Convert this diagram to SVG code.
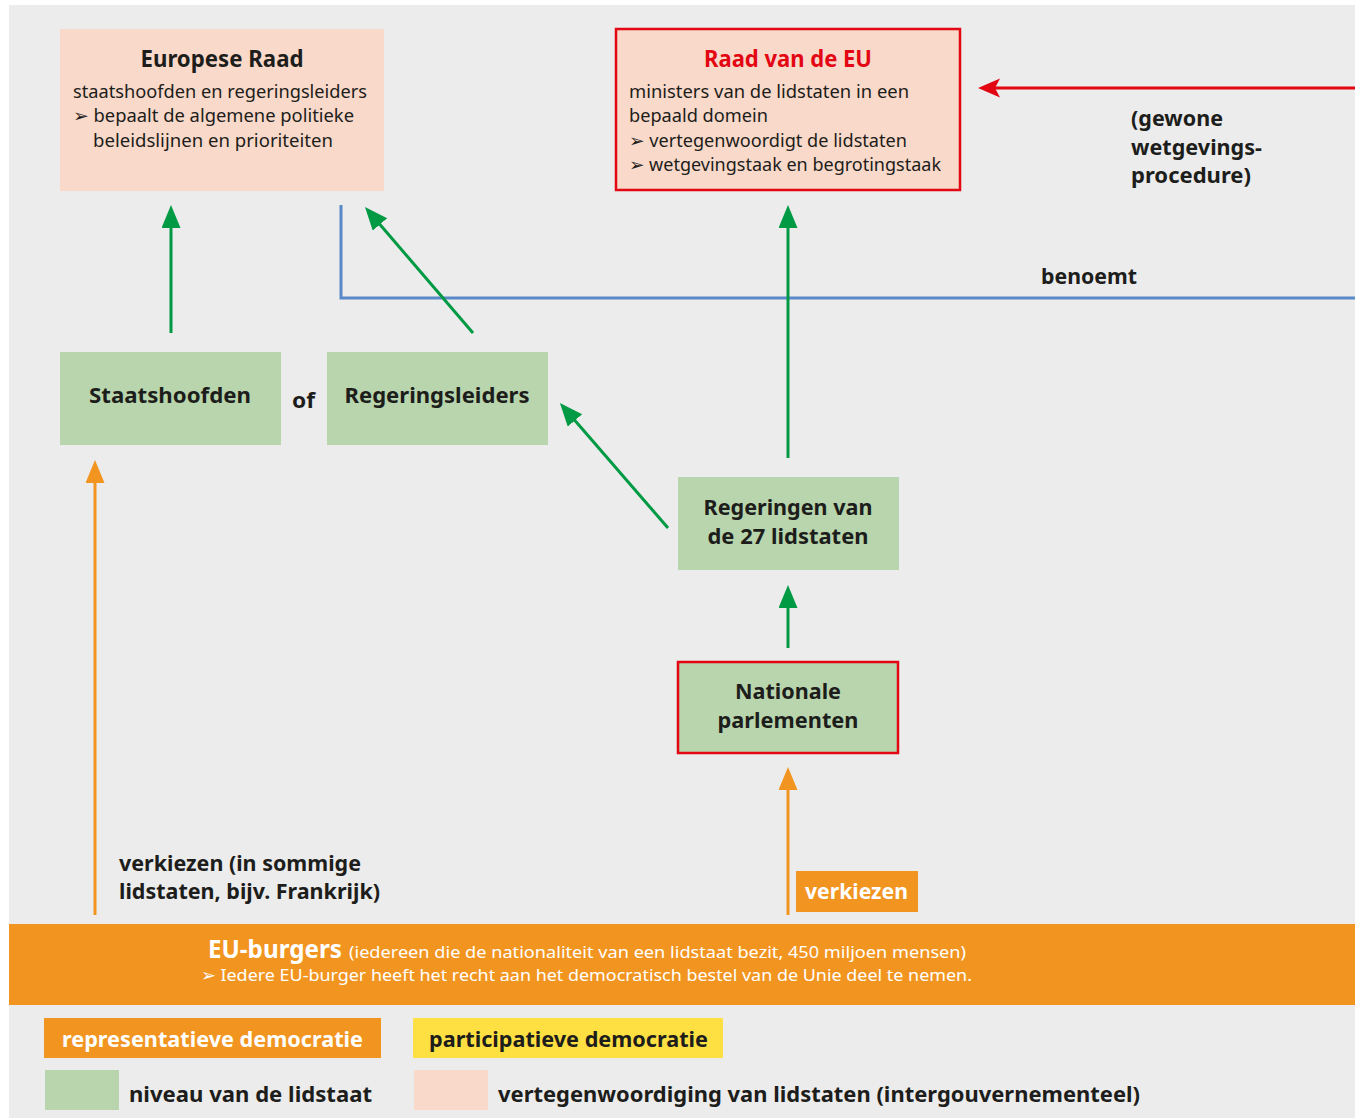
<svg xmlns="http://www.w3.org/2000/svg" width="1355" height="1118" viewBox="0 0 1355 1118">
<style>
  text { font-family: "Noto Sans", "Open Sans", sans-serif; fill: #1d1d1b; }
  .t { font-size: 23px; font-weight: bold; }
  .b { font-size: 17.5px; }
  .lbl { font-size: 22px; font-weight: bold; }
  .w { fill: #ffffff; }
  .pink { fill: #f9d9c9; }
  .green { fill: #b8d5ad; }
  .redb { stroke: #e30613; stroke-width: 2.5; }
  .ga { stroke: #009a44; stroke-width: 3; fill: none; marker-end: url(#ag); }
  .oa { stroke: #f29520; stroke-width: 3; fill: none; marker-end: url(#ao); }
</style>
<defs>
  <marker id="ag" markerUnits="userSpaceOnUse" markerWidth="24" markerHeight="20" refX="1" refY="9.5" orient="auto">
    <path d="M0,0 L23,9.5 L0,19 z" fill="#009a44"/>
  </marker>
  <marker id="ao" markerUnits="userSpaceOnUse" markerWidth="24" markerHeight="20" refX="1" refY="9.5" orient="auto">
    <path d="M0,0 L23,9.5 L0,19 z" fill="#f29520"/>
  </marker>
  <marker id="ar" markerUnits="userSpaceOnUse" markerWidth="24" markerHeight="20" refX="5" refY="9.5" orient="auto">
    <path d="M0,0 L22,9.5 L0,19 L5,9.5 z" fill="#e30613"/>
  </marker>
</defs>
<rect x="0" y="0" width="1355" height="1118" fill="#ffffff"/>
<rect x="9" y="5" width="1346" height="1113" fill="#ececec"/>

<g id="connectors">
  <polyline points="341,205 341,298 1355,298" fill="none" stroke="#5b89c8" stroke-width="3"/>
  <line x1="1355" y1="88" x2="995" y2="88" stroke="#e30613" stroke-width="3" marker-end="url(#ar)"/>
  <line class="ga" x1="171" y1="333" x2="171" y2="227"/>
  <line class="ga" x1="473" y1="333" x2="379.3" y2="223.7"/>
  <line class="ga" x1="788" y1="458" x2="788" y2="227"/>
  <line class="ga" x1="668" y1="528" x2="574.3" y2="419.7"/>
  <line class="ga" x1="788" y1="648" x2="788" y2="607"/>
  <line class="oa" x1="95" y1="915" x2="95" y2="482"/>
  <line class="oa" x1="788" y1="915" x2="788" y2="789"/>
  <text class="lbl" x="1131" y="126" textLength="92" lengthAdjust="spacingAndGlyphs">(gewone</text>
  <text class="lbl" x="1131" y="155" textLength="131" lengthAdjust="spacingAndGlyphs">wetgevings-</text>
  <text class="lbl" x="1131" y="183" textLength="120" lengthAdjust="spacingAndGlyphs">procedure)</text>
  <text class="lbl" x="1041" y="284" textLength="96" lengthAdjust="spacingAndGlyphs">benoemt</text>
  <text class="lbl" x="119" y="871" textLength="242" lengthAdjust="spacingAndGlyphs">verkiezen (in sommige</text>
  <text class="lbl" x="119" y="899" textLength="261" lengthAdjust="spacingAndGlyphs">lidstaten, bijv. Frankrijk)</text>
  <rect x="796" y="871" width="122" height="41" fill="#f29520"/>
  <text class="lbl w" x="805" y="899" textLength="103" lengthAdjust="spacingAndGlyphs">verkiezen</text>
</g>

<g id="europese-raad">
  <rect class="pink" x="60" y="29" width="324" height="162"/>
  <text class="t" x="222" y="67" text-anchor="middle" textLength="163" lengthAdjust="spacingAndGlyphs">Europese Raad</text>
  <text class="b" x="73" y="98" textLength="294" lengthAdjust="spacingAndGlyphs">staatshoofden en regeringsleiders</text>
  <text class="b" x="73" y="122" textLength="281" lengthAdjust="spacingAndGlyphs">➢ bepaalt de algemene politieke</text>
  <text class="b" x="93" y="147" textLength="240" lengthAdjust="spacingAndGlyphs">beleidslijnen en prioriteiten</text>
</g>

<g id="raad-van-de-eu">
  <rect class="pink redb" x="616" y="29" width="344" height="161"/>
  <text class="t" x="788" y="67" text-anchor="middle" textLength="168" lengthAdjust="spacingAndGlyphs" style="fill:#e30613">Raad van de EU</text>
  <text class="b" x="629" y="98" textLength="280" lengthAdjust="spacingAndGlyphs">ministers van de lidstaten in een</text>
  <text class="b" x="629" y="122" textLength="139" lengthAdjust="spacingAndGlyphs">bepaald domein</text>
  <text class="b" x="629" y="147" textLength="278" lengthAdjust="spacingAndGlyphs">➢ vertegenwoordigt de lidstaten</text>
  <text class="b" x="629" y="171" textLength="312" lengthAdjust="spacingAndGlyphs">➢ wetgevingstaak en begrotingstaak</text>
</g>

<g id="staatshoofden">
  <rect class="green" x="60" y="352" width="221" height="93"/>
  <text class="lbl" x="170" y="403" text-anchor="middle" textLength="162" lengthAdjust="spacingAndGlyphs">Staatshoofden</text>
</g>

<text id="of" class="lbl" x="292" y="408" textLength="23" lengthAdjust="spacingAndGlyphs">of</text>

<g id="regeringsleiders">
  <rect class="green" x="327" y="352" width="221" height="93"/>
  <text class="lbl" x="437" y="403" text-anchor="middle" textLength="185" lengthAdjust="spacingAndGlyphs">Regeringsleiders</text>
</g>

<g id="regeringen">
  <rect class="green" x="678" y="477" width="221" height="93"/>
  <text class="lbl" x="788" y="515" text-anchor="middle" textLength="169" lengthAdjust="spacingAndGlyphs">Regeringen van</text>
  <text class="lbl" x="788" y="544" text-anchor="middle" textLength="161" lengthAdjust="spacingAndGlyphs">de 27 lidstaten</text>
</g>

<g id="nationale-parlementen">
  <rect class="green redb" x="678" y="662" width="220" height="91"/>
  <text class="lbl" x="788" y="699" text-anchor="middle" textLength="106" lengthAdjust="spacingAndGlyphs">Nationale</text>
  <text class="lbl" x="788" y="728" text-anchor="middle" textLength="141" lengthAdjust="spacingAndGlyphs">parlementen</text>
</g>

<g id="eu-burgers">
  <rect x="9" y="924" width="1346" height="81" fill="#f29520"/>
  <text class="w" x="208" y="958" style="font-size:25px;font-weight:bold" textLength="134" lengthAdjust="spacingAndGlyphs">EU-burgers</text>
  <text class="w" x="349" y="958" style="font-size:17px" textLength="617" lengthAdjust="spacingAndGlyphs">(iedereen die de nationaliteit van een lidstaat bezit, 450 miljoen mensen)</text>
  <text class="w" x="201" y="981" style="font-size:17px" textLength="771" lengthAdjust="spacingAndGlyphs">➢ Iedere EU-burger heeft het recht aan het democratisch bestel van de Unie deel te nemen.</text>
</g>

<g id="legend">
  <rect x="44" y="1018" width="337" height="40" fill="#f29520"/>
  <text class="lbl w" x="62" y="1047" textLength="301" lengthAdjust="spacingAndGlyphs">representatieve democratie</text>
  <rect x="413" y="1018" width="310" height="40" fill="#fee043"/>
  <text class="lbl" x="429" y="1047" textLength="279" lengthAdjust="spacingAndGlyphs">participatieve democratie</text>
  <rect class="green" x="45" y="1070" width="74" height="40"/>
  <text class="lbl" x="129" y="1102" textLength="243" lengthAdjust="spacingAndGlyphs">niveau van de lidstaat</text>
  <rect class="pink" x="414" y="1070" width="74" height="40"/>
  <text class="lbl" x="498" y="1102" textLength="642" lengthAdjust="spacingAndGlyphs">vertegenwoordiging van lidstaten (intergouvernementeel)</text>
</g>
</svg>
